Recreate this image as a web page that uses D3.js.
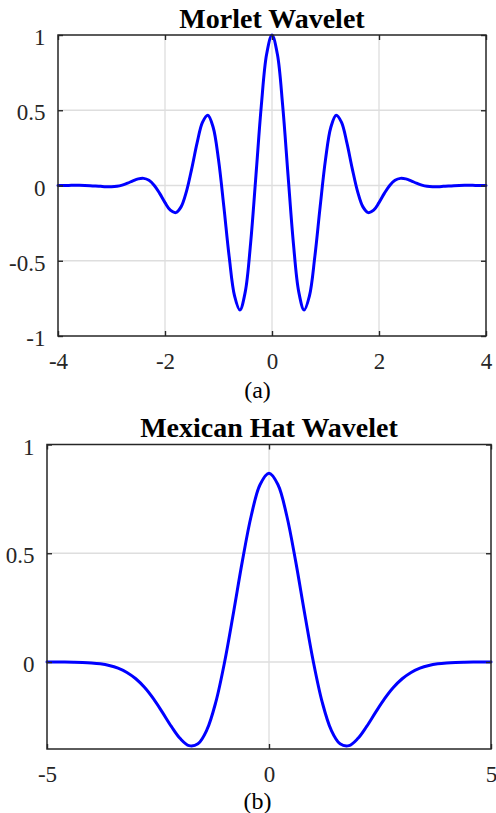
<!DOCTYPE html>
<html><head><meta charset="utf-8">
<script src="https://cdn.jsdelivr.net/npm/d3@7"></script>
<style>body{margin:0;background:#fff} svg{display:block} svg text{font-family:"Liberation Serif","Times New Roman",serif}</style>
</head><body>
<script>
// ---------- Data ----------
const morletX = [-4.0,-3.9,-3.8,-3.7,-3.6,-3.5,-3.4,-3.3,-3.2,-3.1,-3.0,-2.9,-2.8,-2.7,-2.6,-2.5,-2.4,-2.3,-2.2,-2.1,
  -2.0,-1.9,-1.8,-1.7,-1.6,-1.5,-1.4,-1.3,-1.2,-1.1,-1.0,-0.9,-0.8,-0.7,-0.6,-0.5,-0.4,-0.3,-0.2,-0.1,
  0.0,0.1,0.2,0.3,0.4,0.5,0.6,0.7,0.8,0.9,1.0,1.1,1.2,1.3,1.4,1.5,1.6,1.7,1.8,1.9,
  2.0,2.1,2.2,2.3,2.4,2.5,2.6,2.7,2.8,2.9,3.0,3.1,3.2,3.3,3.4,3.5,3.6,3.7,3.8,3.9,4.0];
const morletY = [0.0001,0.0004,0.0007,0.0010,0.0009,0.0004,-0.0009,-0.0030,-0.0057,-0.0080,-0.0084,-0.0053,0.0027,0.0155,0.0309,0.0438,0.0474,0.0343,0.0004,-0.0524,
  -0.1136,-0.1640,-0.1803,-0.1419,-0.0404,0.1125,0.2829,0.4195,0.4674,0.3870,0.1721,-0.1406,-0.4746,-0.7330,-0.8269,-0.7070,-0.3841,0.0676,0.5296,0.8732,
  1.0000,0.8732,0.5296,0.0676,-0.3841,-0.7070,-0.8269,-0.7330,-0.4746,-0.1406,0.1721,0.3870,0.4674,0.4195,0.2829,0.1125,-0.0404,-0.1419,-0.1803,-0.1640,
  -0.1136,-0.0524,0.0004,0.0343,0.0474,0.0438,0.0309,0.0155,0.0027,-0.0053,-0.0084,-0.0080,-0.0057,-0.0030,-0.0009,0.0004,0.0009,0.0010,0.0007,0.0004,0.0001];

const hatX = [-5.0,-4.8,-4.6,-4.4,-4.2,-4.0,-3.8,-3.6,-3.4,-3.2,-3.0,-2.8,-2.6,-2.4,-2.2,-2.0,-1.8,-1.6,-1.4,-1.2,-1.0,-0.8,-0.6,-0.4,-0.2,
  0.0,0.2,0.4,0.6,0.8,1.0,1.2,1.4,1.6,1.8,2.0,2.2,2.4,2.6,2.8,3.0,3.2,3.4,3.6,3.8,4.0,4.2,4.4,4.6,4.8,5.0];
const hatY = [-0.0001,-0.0002,-0.0004,-0.0010,-0.0021,-0.0044,-0.0085,-0.0160,-0.0283,-0.0479,-0.0771,-0.1175,-0.1698,-0.2316,-0.2961,-0.3521,-0.3845,-0.3761,-0.3125,-0.1858,0.0000,0.2267,0.4637,0.6725,0.8161,
  0.8673,0.8161,0.6725,0.4637,0.2267,0.0000,-0.1858,-0.3125,-0.3761,-0.3845,-0.3521,-0.2961,-0.2316,-0.1698,-0.1175,-0.0771,-0.0479,-0.0283,-0.0160,-0.0085,-0.0044,-0.0021,-0.0010,-0.0004,-0.0002,-0.0001];

const morletXTicks = [-4,-2,0,2,4];
const morletYTicks = [-1,-0.5,0,0.5,1];
const hatXTicks = [-5,0,5];
const hatYTicks = [0,0.5,1];
const titles = ["Morlet Wavelet","Mexican Hat Wavelet"];
const captions = ["(a)","(b)"];

// ---------- Drawing ----------
const W = 496, H = 813;
const svg = d3.select("body").append("svg").attr("width",W).attr("height",H);
const FONT = '"Liberation Serif","Times New Roman",serif';
const AX = "#262626", GRID = "#dedede";

function panel(cfg){
  const {x0,x1,y0,y1,xd,yd,xs,ys,xt,yt,title,cap,titleY,capY,xLabY} = cfg;
  const x = d3.scaleLinear().domain(xd).range([x0,x1]);
  const y = d3.scaleLinear().domain(yd).range([y1,y0]);
  const g = svg.append("g");
  const fmt = d => String(d);

  // grid
  g.append("g").selectAll("line").data(xt.filter(d=>d>xd[0]&&d<xd[1])).join("line")
    .attr("x1",d=>x(d)).attr("x2",d=>x(d)).attr("y1",y0).attr("y2",y1)
    .attr("stroke",GRID).attr("stroke-width",1.3);
  g.append("g").selectAll("line").data(yt.filter(d=>d>yd[0]&&d<yd[1])).join("line")
    .attr("y1",d=>y(d)).attr("y2",d=>y(d)).attr("x1",x0).attr("x2",x1)
    .attr("stroke",GRID).attr("stroke-width",1.3);

  // curve
  const pts = xs.map((v,i)=>[v,ys[i]]);
  g.append("path").datum(pts)
    .attr("d", d3.line().x(d=>x(d[0])).y(d=>y(d[1])).curve(d3.curveCatmullRom.alpha(0.5)))
    .attr("fill","none").attr("stroke","#0000ff").attr("stroke-width",3)
    .attr("stroke-linejoin","round").attr("stroke-linecap","round");

  // axes (inward ticks)
  const style = sel => {
    sel.attr("font-family",null).attr("font-size",null);
    sel.select(".domain").remove();
    sel.selectAll(".tick line").attr("stroke",AX).attr("stroke-width",1.4);
    sel.selectAll("text").style("font-family",FONT).style("font-size","23px").attr("fill",AX);
  };
  const bx = g.append("g").attr("transform",`translate(0,${y1})`)
    .call(d3.axisBottom(x).tickValues(xt).tickFormat(fmt).tickSizeInner(-5).tickSizeOuter(0))
    .call(style);
  bx.selectAll("text").attr("y",xLabY).attr("dy",0);
  g.append("g").attr("transform",`translate(0,${y0})`)
    .call(d3.axisTop(x).tickValues(xt).tickFormat("").tickSizeInner(-5).tickSizeOuter(0)).call(style);
  const ly = g.append("g").attr("transform",`translate(${x0},0)`)
    .call(d3.axisLeft(y).tickValues(yt).tickFormat(fmt).tickSizeInner(-5).tickSizeOuter(0))
    .call(style);
  ly.selectAll("text").attr("x",-12.5).attr("dy",0).attr("y",9.5);
  g.append("g").attr("transform",`translate(${x1},0)`)
    .call(d3.axisRight(y).tickValues(yt).tickFormat("").tickSizeInner(-5).tickSizeOuter(0)).call(style);

  // box
  g.append("rect").attr("x",x0).attr("y",y0).attr("width",x1-x0).attr("height",y1-y0)
    .attr("fill","none").attr("stroke",AX).attr("stroke-width",1.5);

  // title
  g.append("text").attr("x",(x0+x1)/2).attr("y",titleY).attr("text-anchor","middle")
    .style("font-family",FONT).style("font-weight","bold").style("font-size","28px").attr("fill","#000")
    .text(title);
  // caption
  g.append("text").attr("x",cfg.capX).attr("y",capY).attr("text-anchor","middle")
    .style("font-family",FONT).style("font-size","24px").attr("fill","#000").text(cap);
}

panel({x0:58,x1:486,y0:35,y1:336,xd:[-4,4],yd:[-1,1],xs:morletX,ys:morletY,
  xt:morletXTicks,yt:morletYTicks,title:titles[0],cap:captions[0],titleY:28,capY:398,capX:257.5,xLabY:33});
panel({x0:47,x1:491,y0:444.5,y1:749,xd:[-5,5],yd:[-0.4,1],xs:hatX,ys:hatY,
  xt:hatXTicks,yt:hatYTicks,title:titles[1],cap:captions[1],titleY:437,capY:808.5,capX:257.5,xLabY:33});
</script>
</body></html>
